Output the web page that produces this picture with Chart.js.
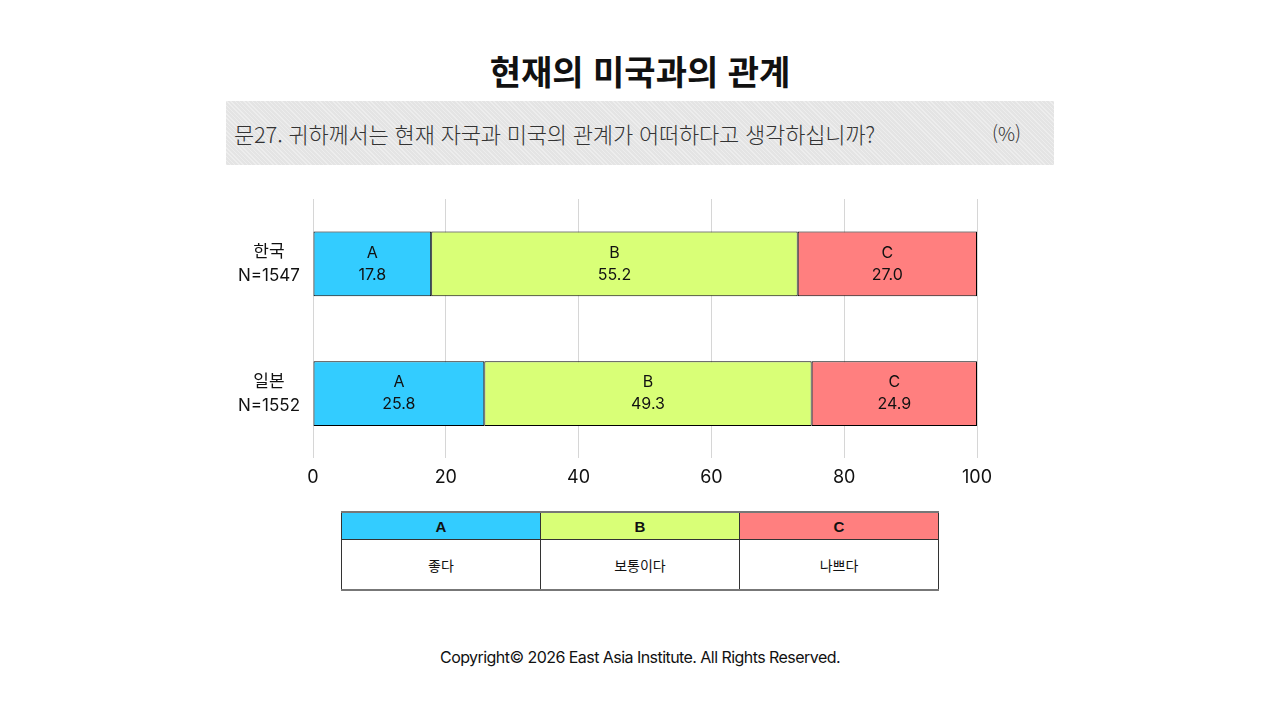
<!DOCTYPE html>
<html lang="ko">
<head>
<meta charset="utf-8">
<title>현재의 미국과의 관계</title>
<script src="https://cdn.jsdelivr.net/npm/chart.js@4.4.1/dist/chart.umd.min.js"></script>
<style>
  html, body { margin: 0; padding: 0; background: #fff; }
  body { width: 1280px; height: 720px; position: relative; overflow: hidden;
         font-family: "Inter", "Noto Sans CJK KR", sans-serif; color: #111; }
  #title { position: absolute; top: 46px; left: 0; width: 1280px; text-align: center;
           font-family: "Noto Sans CJK KR", sans-serif; font-weight: 700; font-size: 34px; line-height: 50px; }
  #band { position: absolute; left: 226px; top: 101px; width: 828px; height: 64px;
          background-color: #e4e4e4;
          background-image: repeating-linear-gradient(45deg, rgba(255,255,255,0.35) 0 1px, transparent 1px 3px); }
  #question { position: absolute; left: 8px; top: 16px; font-family: "Noto Sans CJK KR", sans-serif;
              font-weight: 300; font-size: 22px; line-height: 32px; color: #333; letter-spacing: -0.2px; white-space: nowrap; }
  #unit { position: absolute; left: 766px; top: 16px; font-family: "Noto Sans CJK KR", sans-serif;
          font-weight: 300; font-size: 19px; line-height: 32px; color: #333; }
  #chartBox { position: absolute; left: 220px; top: 185px; width: 790px; height: 319px; }
  #legend { position: absolute; left: 341px; top: 511px; width: 598px; border-collapse: collapse;
            font-family: "Noto Sans CJK KR", sans-serif; table-layout: fixed; }
  #legend td { border-left: 1px solid #333; border-right: 1px solid #333; text-align: center; padding: 0; }
  #legend tr.head td { height: 26px; font-family: "Liberation Sans", sans-serif; font-weight: 700; font-size: 15px;
                       border-top: 2px solid #777; border-bottom: 1px solid #333; }
  #legend tr.body td { height: 49px; font-size: 14px; border-bottom: 2px solid #777; }
  #footer { position: absolute; top: 646px; left: 0; width: 1280px; text-align: center;
            font-size: 16px; line-height: 22px; color: #111; letter-spacing: -0.55px; }
</style>
</head>
<body>
<div id="title">현재의 미국과의 관계</div>
<div id="band">
  <div id="question">문27. 귀하께서는 현재 자국과 미국의 관계가 어떠하다고 생각하십니까?</div>
  <div id="unit">(%)</div>
</div>
<div id="chartBox"><canvas id="chart"></canvas></div>
<table id="legend">
  <tr class="head" id="legendHead"></tr>
  <tr class="body" id="legendBody"></tr>
</table>
<div id="footer">Copyright© 2026 East Asia Institute. All Rights Reserved.</div>

<script>
// categories (two lines each)
const countries = [['한국', 'N=1547'], ['일본', 'N=1552']];

// series values (%)
const seriesCodes = ['A', 'B', 'C'];
const seriesNames = ['좋다', '보통이다', '나쁘다'];
const seriesColors = ['#33ccff', '#d9ff77', '#ff7f7f'];
const valuesA = [17.8, 25.8];
const valuesB = [55.2, 49.3];
const valuesC = [27.0, 24.9];

// x axis ticks
const xTicks = [0, 20, 40, 60, 80, 100];

const allValues = [valuesA, valuesB, valuesC];

// legend table
const head = document.getElementById('legendHead');
const body = document.getElementById('legendBody');
seriesCodes.forEach((code, i) => {
  const th = document.createElement('td');
  th.textContent = code;
  th.style.background = seriesColors[i];
  head.appendChild(th);
  const td = document.createElement('td');
  td.textContent = seriesNames[i];
  body.appendChild(td);
});

// draws "A\n17.8" in the middle of each segment
const segmentLabels = {
  id: 'segmentLabels',
  afterDatasetsDraw(chart) {
    const ctx = chart.ctx;
    ctx.save();
    ctx.fillStyle = '#111';
    ctx.textAlign = 'center';
    ctx.textBaseline = 'middle';
    ctx.font = '16px "Inter", "Noto Sans CJK KR", sans-serif';
    chart.data.datasets.forEach((ds, di) => {
      chart.getDatasetMeta(di).data.forEach((bar, i) => {
        const cx = (bar.x + bar.base) / 2;
        ctx.fillText(ds.label, cx, bar.y - 11);
        ctx.fillText(ds.data[i].toFixed(1), cx, bar.y + 11);
      });
    });
    ctx.restore();
  }
};

new Chart(document.getElementById('chart'), {
  type: 'bar',
  data: {
    labels: countries,
    datasets: seriesCodes.map((code, i) => ({
      label: code,
      data: allValues[i],
      backgroundColor: seriesColors[i],
      borderColor: '#000',
      borderWidth: 1,
      borderSkipped: false,
      barPercentage: 0.5,
      categoryPercentage: 1.0
    }))
  },
  options: {
    indexAxis: 'y',
    responsive: true,
    maintainAspectRatio: false,
    animation: false,
    layout: { padding: { top: 14, right: 33, bottom: 8, left: 0 } },
    plugins: {
      legend: { display: false },
      tooltip: { enabled: false }
    },
    scales: {
      x: {
        stacked: true,
        min: 0,
        max: 100,
        afterBuildTicks: (scale) => { scale.ticks = xTicks.map(v => ({ value: v })); },
        grid: { color: '#d6d6d6', drawTicks: false },
        border: { display: false },
        ticks: {
          padding: 8,
          color: '#111',
          font: { family: '"Inter", sans-serif', size: 18 }
        }
      },
      y: {
        stacked: true,
        grid: { display: false, drawTicks: false },
        border: { display: false },
        afterFit: (scale) => {
          scale.width = 93;
          scale.paddingTop = 0;
          scale.paddingBottom = 0;
        },
        ticks: {
          crossAlign: 'center',
          padding: 13,
          color: '#111',
          font: { family: '"Inter", "Noto Sans CJK KR", sans-serif', size: 17, lineHeight: 1.4 }
        }
      }
    }
  },
  plugins: [segmentLabels]
});
</script>
</body>
</html>
